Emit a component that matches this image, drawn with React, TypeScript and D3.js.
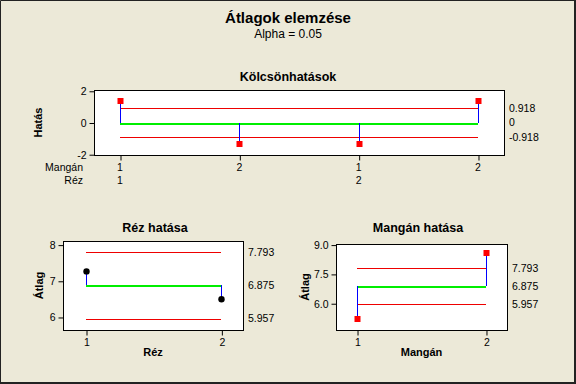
import React, { useEffect, useRef } from 'react';
import * as d3 from 'd3';

// interaction effects (Mangán x Réz)
const interMangan = ['1', '2', '1', '2'];
const interRez = ['1', '', '2', ''];
const interValues = [1.36, -1.36, -1.36, 1.36];
const interLimits = [0.918, 0, -0.918];
const interTicks = [-2, 0, 2];

// main effects
const rezLevels = ['1', '2'];
const rezMeans = [7.26, 6.49];
const manganLevels = ['1', '2'];
const manganMeans = [5.2, 8.55];
const centerLine = 6.875;
const upperLimit = 7.793;
const lowerLimit = 5.957;
const rezTicks = [6, 7, 8];
const manganTicks = [6.0, 7.5, 9.0];

const W = 576, H = 384;
const FONT = '"Liberation Sans", Arial, sans-serif';
const BG = '#ECE9D8';

type Panel = {
  box: { l: number; r: number; t: number; b: number };
  xDomain: [number, number];
  yDomain: [number, number];
  values: number[];
  center: number;
  limits: number[];
  limitLabels: string[];
  yTicks: number[];
  yFmt: (d: number) => string;
  marker: 'square' | 'circle';
  title: string;
  titleX: number;
  titleY: number;
  yLabel: string;
  yLabelX: number;
};

function drawPanel(svg: d3.Selection<SVGSVGElement, unknown, null, undefined>, p: Panel) {
  const g = svg.append('g');
  const x = d3.scaleLinear().domain(p.xDomain).range([p.box.l, p.box.r]);
  const y = d3.scaleLinear().domain(p.yDomain).range([p.box.b, p.box.t]);
  const n = p.values.length;

  g.append('rect')
    .attr('x', p.box.l + 0.5).attr('y', p.box.t + 0.5)
    .attr('width', p.box.r - p.box.l).attr('height', p.box.b - p.box.t)
    .attr('fill', '#fff').attr('stroke', '#000');

  // y axis
  g.append('g')
    .attr('transform', `translate(${p.box.l + 0.5},0.5)`)
    .call(d3.axisLeft(y).tickValues(p.yTicks).tickSize(5).tickPadding(3).tickFormat(p.yFmt as any))
    .call(a => a.select('.domain').remove())
    .call(a => a.selectAll('text').attr('font-family', FONT).attr('font-size', 10.5).attr('fill', '#000'));

  // limits
  const lim = [p.limits[0], p.center, p.limits[1]];
  lim.forEach((v, i) => {
    const yy = Math.round(y(v)) + 0.5;
    g.append('line')
      .attr('x1', x(1)).attr('x2', x(n))
      .attr('y1', yy).attr('y2', yy)
      .attr('shape-rendering', 'crispEdges')
      .attr('stroke', i === 1 ? '#00ee00' : '#ee0000').attr('stroke-width', i === 1 ? 2 : 1);
    g.append('text')
      .attr('x', p.box.r + 5).attr('y', y(v))
      .attr('dy', '0.35em').attr('font-family', FONT).attr('font-size', 10.5)
      .text(p.limitLabels[i]);
  });

  // stems + markers
  p.values.forEach((v, i) => {
    const cx = Math.round(x(i + 1)) + 0.5;
    g.append('line')
      .attr('x1', cx).attr('x2', cx)
      .attr('y1', y(p.center)).attr('y2', y(v))
      .attr('shape-rendering', 'crispEdges')
      .attr('stroke', '#0000ff').attr('stroke-width', 1.5);
    if (p.marker === 'square') {
      g.append('rect')
        .attr('x', cx - 3).attr('y', Math.round(y(v)) - 3).attr('width', 6).attr('height', 6)
        .attr('fill', '#ff0000');
    } else {
      g.append('circle').attr('cx', cx).attr('cy', y(v)).attr('r', 3.2).attr('fill', '#000');
    }
  });

  g.append('text')
    .attr('x', p.titleX).attr('y', p.titleY)
    .attr('text-anchor', 'middle').attr('font-family', FONT).attr('font-size', 12.5)
    .attr('font-weight', 'bold').text(p.title);

  g.append('text')
    .attr('transform', `translate(${p.yLabelX},${(p.box.t + p.box.b) / 2}) rotate(-90)`)
    .attr('text-anchor', 'middle').attr('font-family', FONT).attr('font-size', 11)
    .attr('font-weight', 'bold').text(p.yLabel);

  return x;
}

export default function App() {
  const ref = useRef<SVGSVGElement>(null);

  useEffect(() => {
    const svg = d3.select(ref.current!);
    svg.selectAll('*').remove();

    svg.append('rect').attr('width', W).attr('height', H).attr('fill', BG);
    svg.append('path')
      .attr('d', `M0.5,${H} V0.5 H${W}`).attr('stroke', '#222').attr('fill', 'none');
    svg.append('path')
      .attr('d', `M0,${H - 1} H${W - 1} V0`).attr('stroke', '#222').attr('stroke-width', 2).attr('fill', 'none');

    svg.append('text')
      .attr('x', 288).attr('y', 23).attr('text-anchor', 'middle')
      .attr('font-family', FONT).attr('font-size', 15).attr('font-weight', 'bold')
      .text('Átlagok elemzése');
    svg.append('text')
      .attr('x', 288).attr('y', 38).attr('text-anchor', 'middle')
      .attr('font-family', FONT).attr('font-size', 12).text('Alpha = 0.05');

    // interactions
    const xi = drawPanel(svg, {
      box: { l: 94, r: 504, t: 90, b: 155 },
      xDomain: [0.782, 4.218],
      yDomain: [-2.05, 2.05],
      values: interValues,
      center: interLimits[1],
      limits: [interLimits[0], interLimits[2]],
      limitLabels: interLimits.map(d => String(d)),
      yTicks: interTicks,
      yFmt: d => String(d),
      marker: 'square',
      title: 'Kölcsönhatások',
      titleX: 288,
      titleY: 81,
      yLabel: 'Hatás',
      yLabelX: 42,
    });
    svg.append('g')
      .attr('transform', 'translate(0.5,155.5)')
      .call(d3.axisBottom(xi).tickValues(interMangan.map((_, i) => i + 1)).tickSize(5).tickFormat(() => ''))
      .call(a => a.select('.domain').remove());
    interMangan.forEach((m, i) => {
      svg.append('text').attr('x', xi(i + 1)).attr('y', 171).attr('text-anchor', 'middle')
        .attr('font-family', FONT).attr('font-size', 10.5).text(m);
      if (interRez[i]) svg.append('text').attr('x', xi(i + 1)).attr('y', 184).attr('text-anchor', 'middle')
        .attr('font-family', FONT).attr('font-size', 10.5).text(interRez[i]);
    });
    svg.append('text').attr('x', 83).attr('y', 171).attr('text-anchor', 'end')
      .attr('font-family', FONT).attr('font-size', 10.5).text('Mangán');
    svg.append('text').attr('x', 83).attr('y', 184).attr('text-anchor', 'end')
      .attr('font-family', FONT).attr('font-size', 10.5).text('Réz');

    const limitLabels = [upperLimit, centerLine, lowerLimit].map(d => d3.format('.3f')(d));

    const panels: [Panel, string[], string][] = [
      [{
        box: { l: 63, r: 243, t: 241, b: 330 },
        xDomain: [0.83, 2.16],
        yDomain: [5.64, 8.1],
        values: rezMeans,
        center: centerLine,
        limits: [upperLimit, lowerLimit],
        limitLabels,
        yTicks: rezTicks,
        yFmt: d => String(d),
        marker: 'circle',
        title: 'Réz hatása',
        titleX: 155,
        titleY: 232,
        yLabel: 'Átlag',
        yLabelX: 43,
      }, rezLevels, 'Réz'],
      [{
        box: { l: 336, r: 507, t: 244, b: 330 },
        xDomain: [0.837, 2.163],
        yDomain: [4.63, 9.03],
        values: manganMeans,
        center: centerLine,
        limits: [upperLimit, lowerLimit],
        limitLabels,
        yTicks: manganTicks,
        yFmt: d => d3.format('.1f')(d),
        marker: 'square',
        title: 'Mangán hatása',
        titleX: 418,
        titleY: 232,
        yLabel: 'Átlag',
        yLabelX: 309,
      }, manganLevels, 'Mangán'],
    ];

    panels.forEach(([p, levels, xLabel]) => {
      const x = drawPanel(svg, p);
      svg.append('g')
        .attr('transform', `translate(0.5,${p.box.b + 0.5})`)
        .call(d3.axisBottom(x).tickValues(levels.map((_, i) => i + 1)).tickSize(5).tickPadding(3)
          .tickFormat((_, i) => levels[i]))
        .call(a => a.select('.domain').remove())
        .call(a => a.selectAll('text').attr('font-family', FONT).attr('font-size', 10.5));
      svg.append('text')
        .attr('x', (p.box.l + p.box.r) / 2).attr('y', 356).attr('text-anchor', 'middle')
        .attr('font-family', FONT).attr('font-size', 11).attr('font-weight', 'bold').text(xLabel);
    });
  }, []);

  return (
    <svg ref={ref} width={W} height={H}
      style={{ position: 'absolute', left: 0, top: 0, display: 'block' }} />
  );
}
